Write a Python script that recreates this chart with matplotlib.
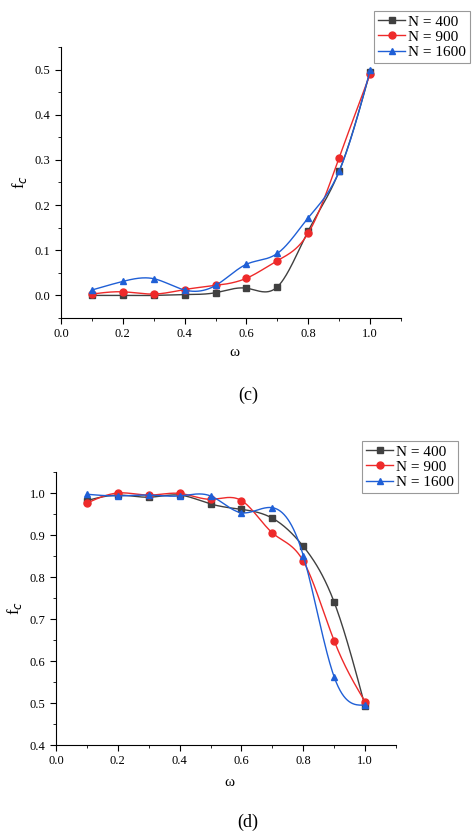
import numpy as np
import matplotlib
matplotlib.use("Agg")
import matplotlib.pyplot as plt
from matplotlib.ticker import MultipleLocator

plt.rcParams['font.family'] = ['Liberation Serif', 'DejaVu Serif']

omega = [0.1, 0.2, 0.3, 0.4, 0.5, 0.6, 0.7, 0.8, 0.9, 1.0]
labels = ["N = 400", "N = 900", "N = 1600"]
c_400 = [0.0, 0.0, 0.0, 0.002, 0.006, 0.016, 0.019, 0.143, 0.275, 0.495]
c_900 = [0.003, 0.008, 0.003, 0.013, 0.022, 0.038, 0.077, 0.138, 0.305, 0.49]
c_1600 = [0.012, 0.031, 0.037, 0.012, 0.022, 0.069, 0.093, 0.172, 0.275, 0.498]
d_400 = [0.982, 0.995, 0.990, 0.995, 0.974, 0.961, 0.940, 0.873, 0.740, 0.492]
d_900 = [0.976, 1.0, 0.995, 0.999, 0.985, 0.982, 0.905, 0.838, 0.648, 0.503]
d_1600 = [0.997, 0.993, 0.995, 0.993, 0.993, 0.953, 0.965, 0.851, 0.562, 0.495]

colors = ["#404040", "#ee2a2a", "#1f5fd6"]
markers = ["s", "o", "^"]

def spline(x, y, n=300):
    x = np.asarray(x, float); y = np.asarray(y, float)
    m = len(x); h = np.diff(x)
    A = np.zeros((m, m)); b = np.zeros(m)
    A[0, 0] = A[-1, -1] = 1
    for i in range(1, m - 1):
        A[i, i - 1] = h[i - 1]; A[i, i] = 2 * (h[i - 1] + h[i]); A[i, i + 1] = h[i]
        b[i] = 6 * ((y[i + 1] - y[i]) / h[i] - (y[i] - y[i - 1]) / h[i - 1])
    M = np.linalg.solve(A, b)
    xs = np.linspace(x[0], x[-1], n)
    idx = np.clip(np.searchsorted(x, xs) - 1, 0, m - 2)
    x0, x1 = x[idx], x[idx + 1]; hh = x1 - x0
    ys = (M[idx] * (x1 - xs) ** 3 + M[idx + 1] * (xs - x0) ** 3) / (6 * hh) \
        + (y[idx] / hh - M[idx] * hh / 6) * (x1 - xs) + (y[idx + 1] / hh - M[idx + 1] * hh / 6) * (xs - x0)
    return xs, ys

fig = plt.figure(figsize=(4.74, 8.39), dpi=100)
W, H = 474, 839

def panel(box, series, ylim, ymaj, yfmt, leg_anchor, label, lab_y, om_y):
    l, r, t, btm = box
    ax = fig.add_axes([l / W, 1 - btm / H, (r - l) / W, (btm - t) / H])
    handles = []
    for ys, c, mk, lb in zip(series, colors, markers, labels):
        xs, ss = spline(omega, ys)
        ax.plot(xs, ss, color=c, lw=1.0)
        ax.plot(omega, ys, linestyle='none', marker=mk, color=c, ms=5)
        h, = ax.plot([], [], color=c, marker=mk, ms=5, lw=1.0, label=lb)
        handles.append(h)
    ax.set_xlim(0, 1.1); ax.set_ylim(*ylim)
    ax.xaxis.set_major_locator(MultipleLocator(0.2))
    ax.xaxis.set_minor_locator(MultipleLocator(0.1))
    ax.yaxis.set_major_locator(MultipleLocator(ymaj))
    ax.yaxis.set_minor_locator(MultipleLocator(ymaj / 2))
    ax.xaxis.set_major_formatter(matplotlib.ticker.FormatStrFormatter('%.1f'))
    ax.yaxis.set_major_formatter(matplotlib.ticker.FormatStrFormatter(yfmt))
    for s in ['top', 'right']:
        ax.spines[s].set_visible(False)
    ax.tick_params(direction='out', labelsize=9, length=4)
    ax.tick_params(which='minor', length=2.5)
    ax.set_ylabel('f$_c$', fontsize=12, labelpad=4)
    fig.text(((l + r) / 2 + 3) / W, 1 - om_y / H, 'ω', ha='center', va='center', fontsize=11)
    fig.text(248 / W, 1 - lab_y / H, label, ha='center', va='center', fontsize=13)
    leg = fig.legend(handles=handles, loc='upper left', bbox_to_anchor=leg_anchor,
                     fontsize=11, frameon=True, fancybox=False, edgecolor='#808080',
                     handlelength=1.8, handletextpad=0.2, borderpad=0.25, labelspacing=0.1,
                     borderaxespad=0)
    leg.get_frame().set_linewidth(0.8)
    return ax

panel((61, 401, 47, 318), [c_400, c_900, c_1600], (-0.05, 0.55), 0.1, '%.1f',
      (374 / W, 1 - 11 / H), '(c)', 395, 352)
panel((56, 396, 472, 745), [d_400, d_900, d_1600], (0.4, 1.05), 0.1, '%.1f',
      (362 / W, 1 - 441 / H), '(d)', 822, 782)

fig.savefig('out.png', dpi=100)
